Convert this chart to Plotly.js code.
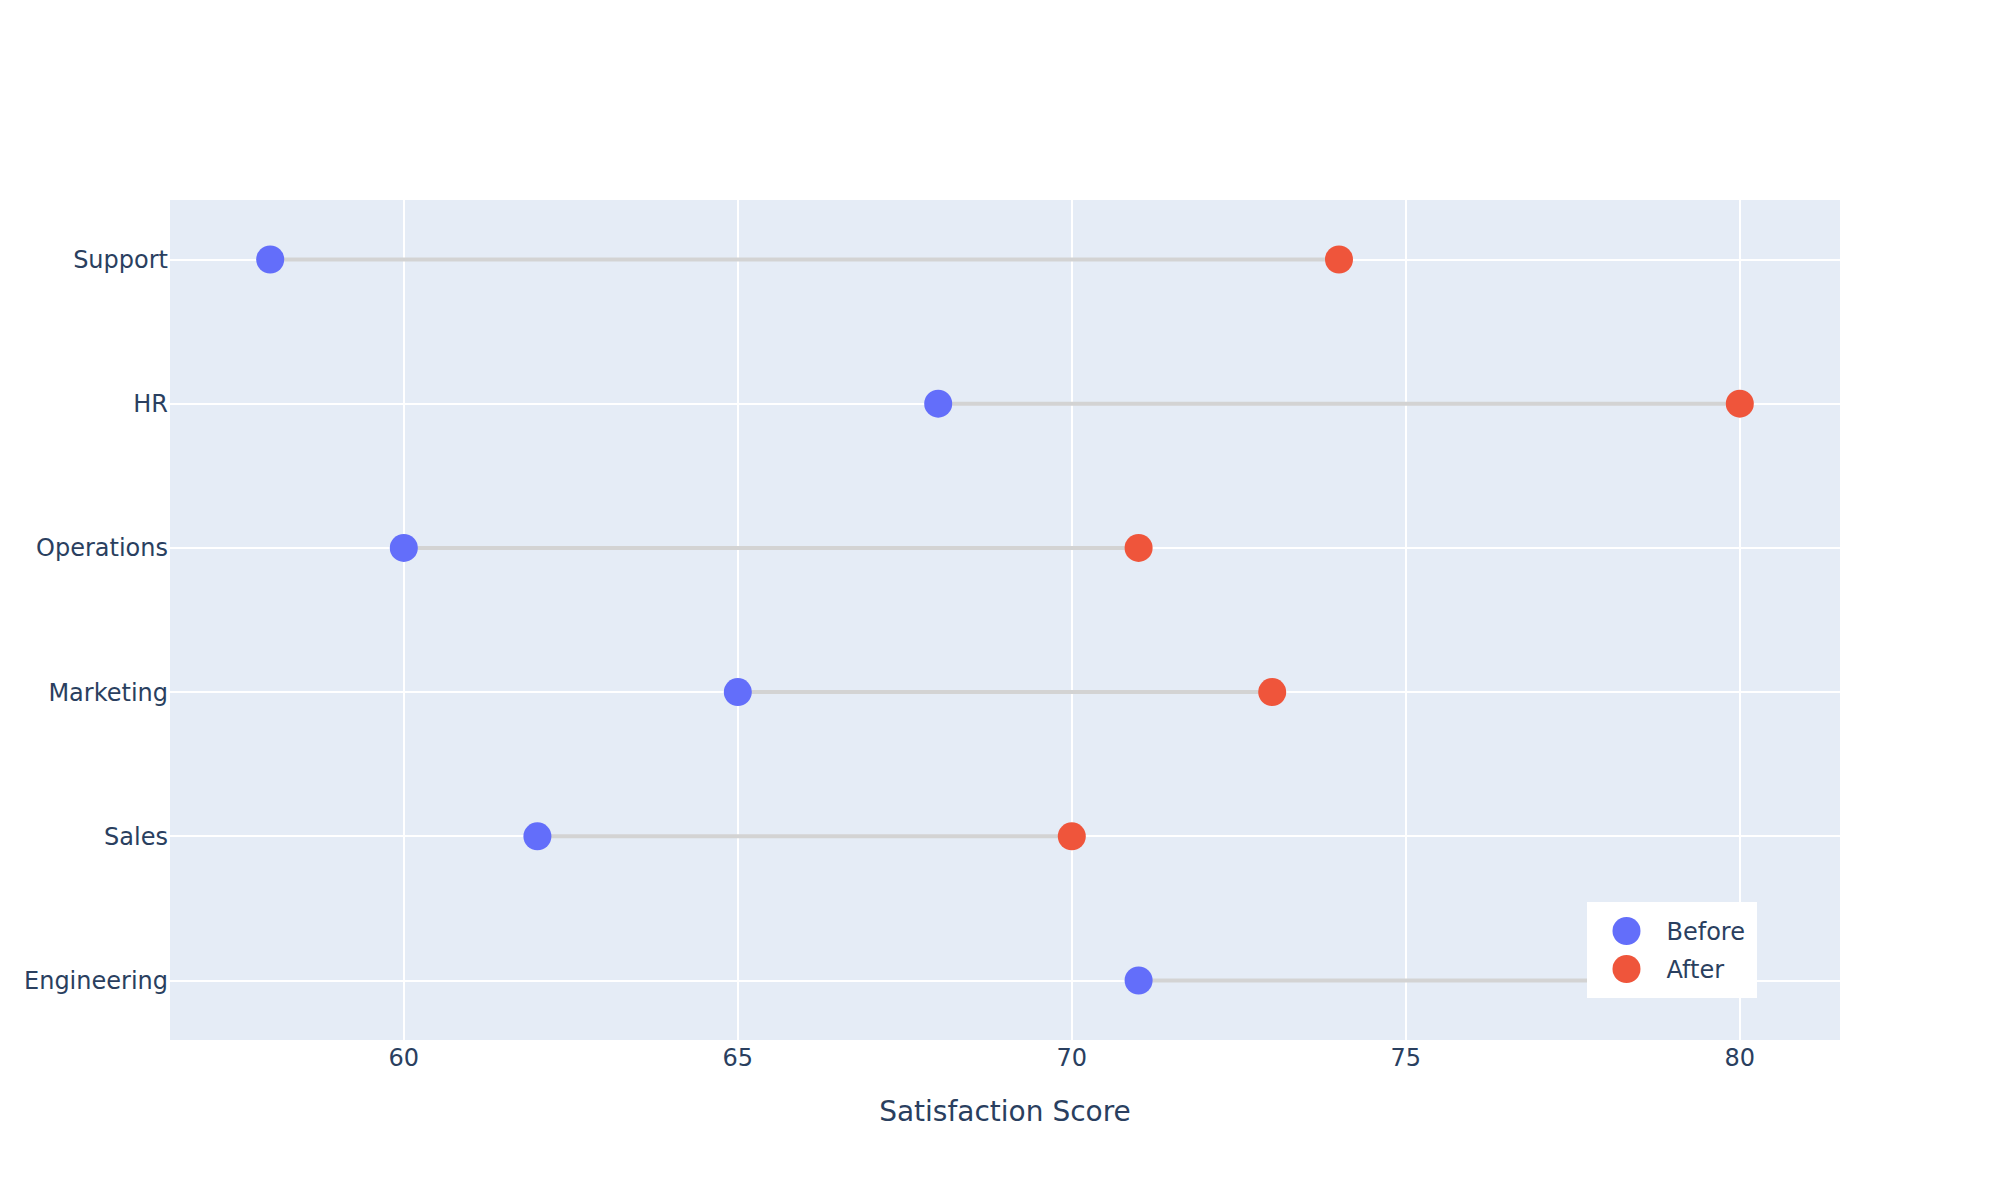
<!DOCTYPE html>
<html>
<head>
<meta charset="utf-8">
<script src="https://cdn.plot.ly/plotly-3.0.1.min.js"></script>
<style>
  html, body { margin: 0; padding: 0; background: #fff; }
  #chart { width: 1000px; height: 600px; zoom: 2; }
</style>
</head>
<body>
<div id="chart"></div>
<script>
// departments, bottom to top
const departments = ['Engineering', 'Sales', 'Marketing', 'Operations', 'HR', 'Support'];
const beforeScores = [71, 62, 65, 60, 68, 58];
const afterScores = [78, 70, 73, 71, 80, 74];

// connector segments, broken with nulls
const lineX = [];
const lineY = [];
departments.forEach((d, i) => {
  lineX.push(beforeScores[i], afterScores[i], null);
  lineY.push(d, d, null);
});

const connectors = {
  x: lineX,
  y: lineY,
  mode: 'lines',
  type: 'scatter',
  line: { color: 'lightgray', width: 2 },
  showlegend: false,
  hoverinfo: 'skip'
};

const before = {
  x: beforeScores,
  y: departments,
  mode: 'markers',
  type: 'scatter',
  name: 'Before',
  marker: { color: '#636EFA', size: 14 }
};

const after = {
  x: afterScores,
  y: departments,
  mode: 'markers',
  type: 'scatter',
  name: 'After',
  marker: { color: '#EF553B', size: 14 }
};

const allScores = beforeScores.concat(afterScores);

const layout = {
  width: 1000,
  height: 600,
  plot_bgcolor: '#E5ECF6',
  paper_bgcolor: '#FFFFFF',
  font: { family: '"DejaVu Sans", verdana, arial, sans-serif', size: 12, color: '#2a3f5f' },
  xaxis: {
    title: { text: 'Satisfaction Score', standoff: 15 },
    range: [Math.min(...allScores) - 1.5, Math.max(...allScores) + 1.5],
    gridcolor: '#FFFFFF',
    zeroline: false,
    dtick: 5,
    automargin: true
  },
  yaxis: {
    type: 'category',
    categoryorder: 'array',
    categoryarray: departments,
    gridcolor: '#FFFFFF',
    automargin: true
  },
  legend: {
    x: 0.95,
    y: 0.05,
    xanchor: 'right',
    yanchor: 'bottom',
    bgcolor: '#FFFFFF'
  },
  margin: { l: 80, r: 80, t: 100, b: 80 }
};

Plotly.newPlot('chart', [connectors, before, after], layout, { displayModeBar: false, staticPlot: true });
</script>
</body>
</html>
